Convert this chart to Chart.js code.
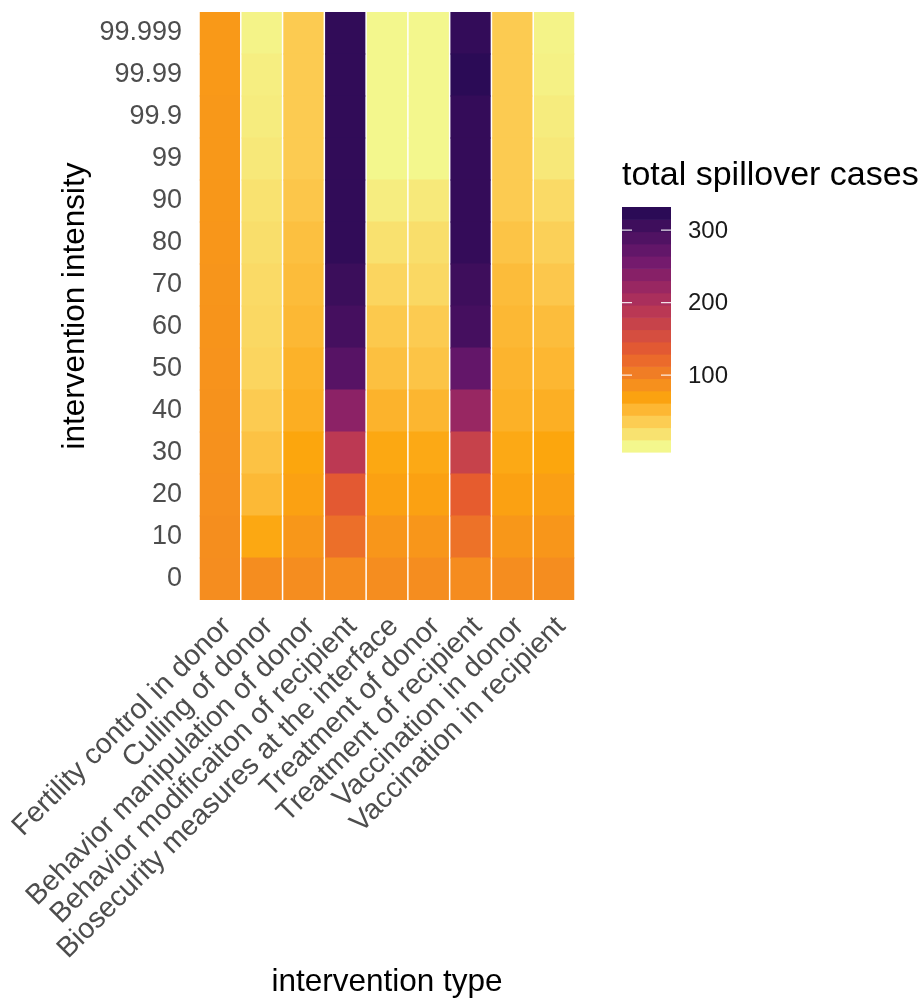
<!DOCTYPE html>
<html>
<head>
<meta charset="utf-8">
<script src="https://cdn.jsdelivr.net/npm/chart.js@4.4.1/dist/chart.umd.min.js"></script>
<style>
  html, body { margin: 0; padding: 0; background: #fff; }
  #wrap { width: 922px; height: 998px; position: relative; }
</style>
</head>
<body>
<div id="wrap"><canvas id="heat"></canvas></div>
<script>
const interventionTypes = [
    'Fertility control in donor',
    'Culling of donor',
    'Behavior manipulation of donor',
    'Behavior modificaiton of recipient',
    'Biosecurity measures at the interface',
    'Treatment of donor',
    'Treatment of recipient',
    'Vaccination in donor',
    'Vaccination in recipient'
];
const intensityLabels = ['0', '10', '20', '30', '40', '50', '60', '70', '80', '90', '99', '99.9', '99.99', '99.999'];

// total spillover cases per intensity, from 0 up to 99.999
const fertilityDonor     = [89, 88, 87, 86, 85, 84, 83, 82, 81, 80, 79, 79, 78, 78];
const cullingDonor       = [89, 65, 51, 44, 37, 29, 27, 25, 22, 19, 14, 11, 9, 5];
const behaviorDonor      = [89, 80, 71, 66, 60, 57, 52, 49, 46, 41, 37, 37, 37, 37];
const behaviorRecipient  = [90, 116, 136, 185, 234, 283, 300, 309, 318, 318, 318, 318, 318, 318];
const biosecurity        = [89, 81, 71, 65, 56, 46, 39, 29, 20, 10, 2, 2, 2, 2];
const treatmentDonor     = [89, 81, 71, 64, 54, 43, 37, 27, 22, 13, 2, 2, 2, 2];
const treatmentRecipient = [90, 113, 132, 172, 222, 271, 300, 306, 315, 315, 315, 315, 323, 316];
const vaccinationDonor   = [89, 80, 71, 64, 58, 55, 52, 49, 43, 37, 37, 37, 37, 37];
const vaccinationRecip   = [89, 81, 73, 66, 59, 53, 48, 40, 33, 25, 14, 11, 7, 5];

const columns = [fertilityDonor, cullingDonor, behaviorDonor, behaviorRecipient, biosecurity,
                 treatmentDonor, treatmentRecipient, vaccinationDonor, vaccinationRecip];
const legendBreaks = [100, 200, 300];

const FONT = '"Liberation Sans", Arial, Helvetica, sans-serif';
Chart.defaults.font.family = FONT;

// reversed inferno-like palette, interpolated in Lab like ggplot does
const anchors = ['#f3f78d', '#fca60c', '#e75d2d', '#b43358', '#70196e', '#2b0b56'];

function hexToRgb(h) {
    const n = parseInt(h.slice(1), 16);
    return [(n >> 16) & 255, (n >> 8) & 255, n & 255];
}
const WHITE = [0.95047, 1, 1.08883];
function toLinear(c) { c /= 255; return c <= 0.04045 ? c / 12.92 : Math.pow((c + 0.055) / 1.055, 2.4); }
function fromLinear(c) {
    const v = c <= 0.0031308 ? 12.92 * c : 1.055 * Math.pow(c, 1 / 2.4) - 0.055;
    return Math.round(Math.min(1, Math.max(0, v)) * 255);
}
function rgbToLab(rgb) {
    const [r, g, b] = rgb.map(toLinear);
    const x = (0.4124 * r + 0.3576 * g + 0.1805 * b) / WHITE[0];
    const y = (0.2126 * r + 0.7152 * g + 0.0722 * b) / WHITE[1];
    const z = (0.0193 * r + 0.1192 * g + 0.9505 * b) / WHITE[2];
    const f = t => t > 0.008856 ? Math.cbrt(t) : 7.787 * t + 16 / 116;
    const fx = f(x), fy = f(y), fz = f(z);
    return [116 * fy - 16, 500 * (fx - fy), 200 * (fy - fz)];
}
function labToRgb([L, a, bb]) {
    const fy = (L + 16) / 116, fx = fy + a / 500, fz = fy - bb / 200;
    const inv = t => t * t * t > 0.008856 ? t * t * t : (t - 16 / 116) / 7.787;
    const x = inv(fx) * WHITE[0], y = inv(fy) * WHITE[1], z = inv(fz) * WHITE[2];
    const r = 3.2406 * x - 1.5372 * y - 0.4986 * z;
    const g = -0.9689 * x + 1.8758 * y + 0.0415 * z;
    const b = 0.0557 * x - 0.2040 * y + 1.0570 * z;
    return [r, g, b].map(fromLinear);
}
const anchorLab = anchors.map(h => rgbToLab(hexToRgb(h)));

const allValues = columns.flat();
const vMin = Math.min(...allValues);
const vMax = Math.max(...allValues);

function fillFor(v) {
    const t = Math.min(1, Math.max(0, (v - vMin) / (vMax - vMin)));
    const n = anchors.length - 1;
    const seg = Math.min(n - 1, Math.floor(t * n));
    const f = t * n - seg;
    const a = anchorLab[seg], b = anchorLab[seg + 1];
    const rgb = labToRgb([0, 1, 2].map(i => a[i] + (b[i] - a[i]) * f));
    return `rgb(${rgb[0]},${rgb[1]},${rgb[2]})`;
}

// one floating-bar dataset per intensity row
const datasets = intensityLabels.map((lab, r) => ({
    label: lab,
    stack: 'cells',
    data: interventionTypes.map(() => [r - 0.5, r + 0.5]),
    backgroundColor: columns.map(col => fillFor(col[r])),
    borderWidth: 0,
    inflateAmount: 0.5,
    barPercentage: 1,
    categoryPercentage: 0.94
}));

// ggplot-style colourbar legend (20 bins)
const colorbar = {
    id: 'colorbar',
    afterDraw(chart) {
        const ctx = chart.ctx;
        const x0 = chart.chartArea.right + 47;
        const top = 207.3, w = 49, h = 245, nbin = 20;
        const binH = h / nbin;
        const bottom = top + h;
        ctx.save();
        for (let k = 0; k < nbin; k++) {
            const v = vMin + k * (vMax - vMin) / (nbin - 1);
            ctx.fillStyle = fillFor(v);
            ctx.fillRect(x0, bottom - (k + 1) * binH - 0.3, w, binH + 0.6);
        }
        const yFor = v => bottom - (0.5 + (v - vMin) / (vMax - vMin) * (nbin - 1)) * binH;
        ctx.strokeStyle = 'rgba(255,255,255,0.85)';
        ctx.lineWidth = 1.3;
        ctx.font = `24px ${FONT}`;
        ctx.fillStyle = '#1a1a1a';
        ctx.textAlign = 'left';
        ctx.textBaseline = 'middle';
        legendBreaks.forEach(b => {
            const y = yFor(b);
            ctx.beginPath();
            ctx.moveTo(x0, y); ctx.lineTo(x0 + 10, y);
            ctx.moveTo(x0 + w - 10, y); ctx.lineTo(x0 + w, y);
            ctx.stroke();
            ctx.fillText(String(b), x0 + 66, y + 1);
        });
        ctx.font = `34px ${FONT}`;
        ctx.fillStyle = '#000';
        ctx.textBaseline = 'alphabetic';
        ctx.fillText('total spillover cases', x0, 185);
        ctx.restore();
    }
};

new Chart(document.getElementById('heat'), {
    type: 'bar',
    data: { labels: interventionTypes, datasets },
    plugins: [colorbar],
    options: {
        responsive: true,
        maintainAspectRatio: false,
        animation: false,
        layout: { padding: { left: 0, right: 347, top: 12, bottom: 0 } },
        plugins: {
            legend: { display: false },
            tooltip: { enabled: false }
        },
        scales: {
            x: {
                stacked: true,
                grid: { display: false, drawTicks: false },
                border: { display: false },
                ticks: {
                    autoSkip: false,
                    minRotation: 45,
                    maxRotation: 45,
                    padding: 10,
                    labelOffset: 7,
                    color: '#4d4d4d',
                    font: { size: 28.5 }
                },
                title: {
                    display: true,
                    text: 'intervention type',
                    color: '#000',
                    font: { size: 31.5, lineHeight: 1 },
                    padding: { top: 0, bottom: 0 }
                },
                afterFit: s => {
                    s.height = 398;
                    s.paddingLeft = 0;
                    s.paddingRight = 0;
                }
            },
            y: {
                type: 'linear',
                stacked: false,
                min: -0.5,
                max: 13.5,
                grid: { display: false, drawTicks: false },
                border: { display: false },
                afterBuildTicks: s => { s.ticks = intensityLabels.map((_, i) => ({ value: i })); },
                ticks: {
                    autoSkip: false,
                    padding: 17,
                    color: '#4d4d4d',
                    font: { size: 27 },
                    callback: v => intensityLabels[v]
                },
                title: {
                    display: true,
                    text: 'intervention intensity',
                    color: '#000',
                    font: { size: 31.5, lineHeight: 1 },
                    padding: { top: 60, bottom: 0 }
                },
                afterFit: s => {
                    s.width = 199;
                    s.paddingTop = 0;
                    s.paddingBottom = 0;
                }
            }
        }
    }
});
</script>
</body>
</html>
